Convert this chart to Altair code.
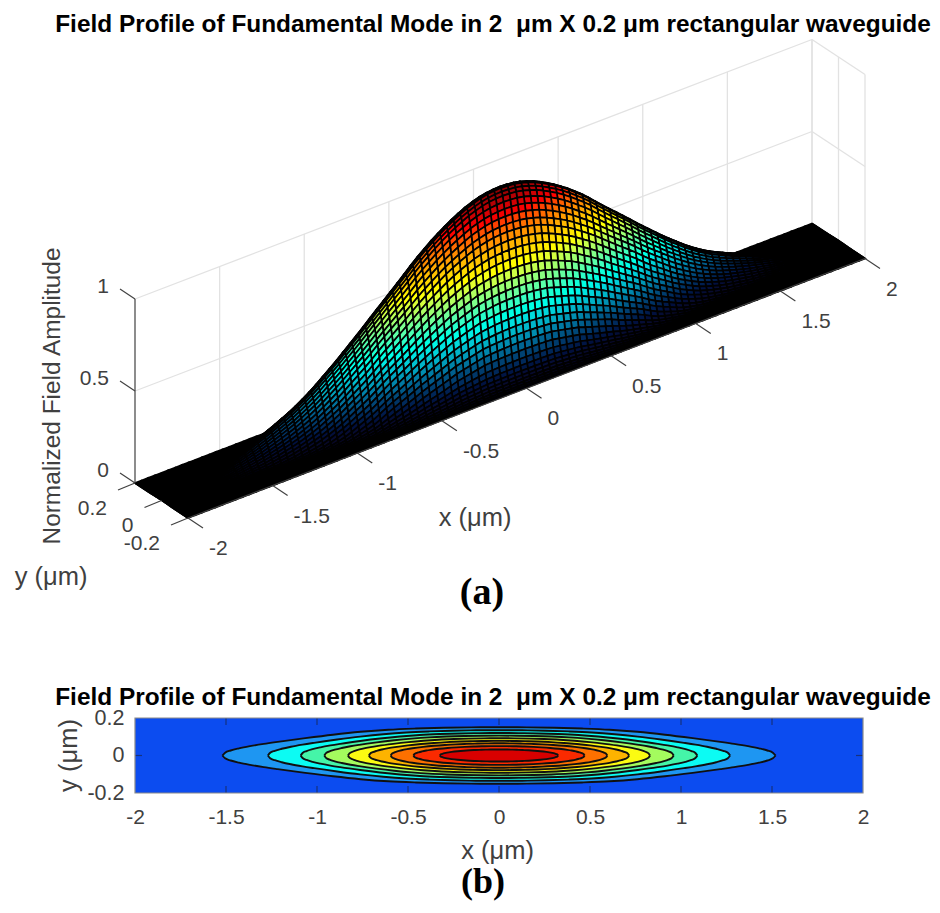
import numpy as np
import altair as alt

TITLE = "Field Profile of Fundamental Mode in 2\u00a0 \u03bcm X 0.2 \u03bcm rectangular waveguide"
UM_X = "x (\u03bcm)"
UM_Y = "y (\u03bcm)"
Z_LABEL = "Normalized Field Amplitude"

# field: amplitude along |x| = 0 ... 2 (0.04 apart), how much the mode narrows in y there,
# and the amplitude along |y| = 0 ... 0.2 (1/150 apart)
x_half = [0.00,0.04,0.08,0.12,0.16,0.20,0.24,0.28,0.32,0.36,0.40,0.44,0.48,0.52,0.56,0.60,0.64,0.68,0.72,0.76,
          0.80,0.84,0.88,0.92,0.96,1.00,1.04,1.08,1.12,1.16,1.20,1.24,1.28,1.32,1.36,1.40,1.44,1.48,1.52,1.56,
          1.60,1.64,1.68,1.72,1.76,1.80,1.84,1.88,1.92,1.96,2.00]
fx_half = [1.000,0.998,0.994,0.986,0.974,0.960,0.942,0.922,0.900,0.876,0.850,0.821,0.792,0.760,0.725,0.691,0.658,0.625,0.592,0.559,
           0.525,0.492,0.460,0.428,0.396,0.366,0.337,0.308,0.281,0.256,0.233,0.212,0.194,0.176,0.159,0.143,0.127,0.112,0.098,0.085,
           0.073,0.062,0.052,0.043,0.035,0.028,0.022,0.016,0.011,0.006,0.002]
wy_half = [1.00,1.00,1.00,1.00,1.00,1.00,0.995,0.99,0.985,0.98,0.97,0.96,0.95,0.94,0.93,0.915,0.90,0.885,0.87,0.85,
           0.825,0.80,0.78,0.76,0.735,0.71,0.69,0.67,0.65,0.635,0.62,0.605,0.59,0.58,0.57,0.56,0.55,0.55,0.55,0.55,
           0.55,0.55,0.55,0.55,0.55,0.55,0.55,0.55,0.55,0.55,0.55]
y_half = [0.0,0.00667,0.01333,0.02,0.02667,0.03333,0.04,0.04667,0.05333,0.06,0.06667,0.07333,0.08,0.08667,0.09333,0.10,
          0.10667,0.11333,0.12,0.12667,0.13333,0.14,0.14667,0.15333,0.16,0.16667,0.17333,0.18,0.18667,0.19333,0.20]
fy_half = [1.000,0.996,0.980,0.960,0.930,0.895,0.858,0.818,0.780,0.735,0.688,0.640,0.590,0.540,0.492,0.445,
           0.396,0.348,0.300,0.256,0.214,0.172,0.132,0.100,0.075,0.056,0.040,0.028,0.018,0.010,0.003]

# contour panel: where each contour ends on y = 0, how far it reaches at x = 0, and its outline
# (outer contours lean to the lens-like outline, inner ones to the rounder one)
levels = [0.1, 0.2, 0.3, 0.4, 0.5, 0.6, 0.7, 0.8, 0.9]
tip_x = [1.52, 1.27, 1.09, 0.96, 0.83, 0.715, 0.595, 0.47, 0.325]
peak_y = [0.151, 0.135, 0.12, 0.106, 0.092, 0.078, 0.065, 0.05, 0.032]
roundness = [0.35, 0.45, 0.55, 0.65, 0.75, 0.85, 0.95, 1.0, 1.0]
outline_u = [0.0, 0.1, 0.2, 0.3, 0.4, 0.5, 0.6, 0.7, 0.8, 0.85, 0.9, 0.94, 0.97, 0.99, 1.0]
outline_lens = [1.0, 0.995, 0.98, 0.95, 0.905, 0.82, 0.70, 0.56, 0.42, 0.35, 0.275, 0.205, 0.14, 0.08, 0.0]
outline_round = [1.0, 0.995, 0.98, 0.954, 0.917, 0.866, 0.80, 0.714, 0.60, 0.527, 0.436, 0.341, 0.243, 0.141, 0.0]
band_colors = ["#1e96f2", "#0cfbf3", "#45f5a8", "#a4fb5e", "#fbfb12", "#fdb300", "#fd7000", "#fb2a00", "#d80000"]
bg_color = "#0c4cf0"

x_ticks = [-2, -1.5, -1, -0.5, 0, 0.5, 1, 1.5, 2]
y_ticks = [0.2, 0, -0.2]
z_ticks = [0, 0.5, 1]
surf_stops = [0, 0.08, 0.16, 0.26, 0.36, 0.61, 0.86, 1]
surf_colors = ["#000010", "#001040", "#004878", "#00a8c0", "#00ffe8", "#ffff00", "#ff0000", "#800000"]

INK = "#404040"
W = 924
H_TOP = 661
H_BOT = 232


def P(x, y, z):
    """oblique view of the data box, in view pixels"""
    px = 135 + (x + 2) / 4 * 677 + (0.2 - y) / 0.4 * 53 - 8
    py = 483 - (x + 2) / 4 * 259.5 + (0.2 - y) / 0.4 * 35 - z * 184 - 8
    return round(float(px), 2), round(float(py), 2)


X_S = alt.Scale(domain=[0, W], nice=False, zero=False)
Y_S = alt.Scale(domain=[H_TOP, 0], nice=False, zero=False)
ex = alt.X("x:Q", scale=X_S, axis=None)
ey = alt.Y("y:Q", scale=Y_S, axis=None)


def seg(a, b, da=(0, 0), db=(0, 0)):
    p, q = P(*a), P(*b)
    return dict(x=p[0] + da[0], y=p[1] + da[1], x2=q[0] + db[0], y2=q[1] + db[1])


def rules(rows, color, width):
    return alt.Chart(alt.Data(values=rows)).mark_rule(color=color, strokeWidth=width).encode(
        x=ex, y=ey, x2="x2:Q", y2="y2:Q")


# ---- walls
grid = [seg((x, 0.2, 0), (x, 0.2, 1)) for x in x_ticks[1:]]
grid += [seg((-2, 0.2, z), (2, 0.2, z)) for z in z_ticks[1:]]
grid += [seg((2, 0.2, z), (2, -0.2, z)) for z in z_ticks[1:]]
grid += [seg((2, y, 0), (2, y, 1)) for y in y_ticks[:2]] + [seg((2, -0.2, 0), (2, -0.2, 1))]

# ---- surface, painted from the far corner to the near one
fya, ya = np.array(fy_half), np.array(y_half)
xs = np.array([-v for v in x_half[:0:-1]] + x_half)
ys = np.array([-v for v in y_half[:0:-1]] + y_half)
fx = np.array(fx_half[:0:-1] + fx_half)
wy = np.array(wy_half[:0:-1] + wy_half)
Z = np.array([[f * np.interp(abs(yv) / w, ya, fya) for f, w in zip(fx, wy)] for yv in ys])

cells = []
for j in range(len(ys) - 2, -1, -1):
    for i in range(len(xs) - 2, -1, -1):
        corners = [(i, j), (i + 1, j), (i + 1, j + 1), (i, j + 1), (i, j)]
        ring = [list(P(xs[a], ys[b], Z[b, a])) for a, b in corners]
        cells.append({"type": "Feature",
                      "geometry": {"type": "Polygon", "coordinates": [ring]},
                      "properties": {"z": round(float(Z[j:j + 2, i:i + 2].mean()), 4)}})

surface = (
    alt.Chart(alt.Data(values=cells))
    .mark_geoshape(stroke="#000000", strokeWidth=1.7)
    .encode(color=alt.Color("properties.z:Q", scale=alt.Scale(domain=surf_stops, range=surf_colors), legend=None))
    .project(type="identity", scale=1, translate=[0, 0])
)

# ---- axes of the box
frame = [seg((-2, 0.2, 0), (-2, 0.2, 1)), seg((-2, -0.2, 0), (2, -0.2, 0))]
ticks = [seg((x, -0.2, 0), (x, -0.2, 0), db=(15, 10)) for x in x_ticks]
ticks += [seg((-2, y, 0), (-2, y, 0), db=(-17, 7)) for y in y_ticks]
ticks += [seg((-2, 0.2, z), (-2, 0.2, z), db=(-15, -10)) for z in z_ticks]


lx = []
for v in x_ticks:
    p = P(v, -0.2, 0)
    lx.append(dict(x=p[0] + 21, y=p[1] + 31, t=str(v)))
ly = []
for v in y_ticks:
    p = P(-2, v, 0)
    ly.append(dict(x=p[0] - 28, y=p[1] + 25.5, t=str(v)))
for v in z_ticks:
    p = P(-2, 0.2, v)
    ly.append(dict(x=p[0] - 26, y=p[1] - 12.5, t=str(v)))


def tick_text(rows, align):
    return alt.Chart(alt.Data(values=rows)).mark_text(
        align=align, baseline="middle", font="Liberation Sans", fontSize=21, color=INK
    ).encode(x=ex, y=ey, text="t:N")


def note(text, px, py, size, color=INK, bold=False, font="Liberation Sans", angle=0, top=0):
    return alt.Chart(alt.Data(values=[{"t": text}])).mark_text(
        align="center", baseline="middle", font=font, fontSize=size, color=color,
        fontWeight="bold" if bold else "normal", angle=angle
    ).encode(x=alt.value(px - 8), y=alt.value(py - 8 - top), text="t:N")


top = alt.layer(
    rules(grid, "#e2e2e2", 1.3),
    surface,
    rules(frame, INK, 1.2),
    rules(ticks, INK, 1.2),
    tick_text(lx, "left"),
    tick_text(ly, "right"),
    note(Z_LABEL, 53, 396, 24.4, angle=270),
    note(UM_X, 475, 518, 25.5),
    note(UM_Y, 51, 577, 25.5),
    note("(a)", 482, 593, 38, color="#000000", bold=True, font="Liberation Serif"),
    note(TITLE, 493, 25, 24.4, color="#000000", bold=True),
).properties(width=W, height=H_TOP)

# ---- contour panel (plot box 718..793 on the page)
PX_X = 182.0
PX_Y = 187.5
BOX_TOP = 718 - 8 - H_TOP
BOX_BOT = 793 - 8 - H_TOP
X_B = alt.Scale(domain=[-2 - 127 / PX_X, 2 + (W - 855) / PX_X], nice=False, zero=False)
Y_B = alt.Scale(domain=[-0.2 - (H_BOT - BOX_BOT) / PX_Y, 0.2 + BOX_TOP / PX_Y], nice=False, zero=False)
x_axis = alt.Axis(values=x_ticks, labelExpr='"" + datum.value', domain=False, ticks=False, grid=False,
                  offset=-(H_BOT - BOX_BOT), labelFont="Liberation Sans", labelFontSize=21, labelColor=INK,
                  labelPadding=13, labelFlush=False, labelOverlap=False, title=UM_X, titleFont="Liberation Sans",
                  titleFontSize=25.5, titleFontWeight="normal", titleColor=INK, titleX=489, titleY=57,
                  titleBaseline="middle")
y_axis = alt.Axis(values=y_ticks, labelExpr='"" + datum.value', domain=False, ticks=False, grid=False,
                  offset=-127, labelFont="Liberation Sans", labelFontSize=21.5, labelColor=INK,
                  labelPadding=11, labelFlush=False, labelOverlap=False, title=UM_Y, titleFont="Liberation Sans",
                  titleFontSize=25.5, titleFontWeight="normal", titleColor=INK, titleX=-67, titleY=BOX_TOP + 37,
                  titleBaseline="middle", titleAngle=270)
bx = alt.X("x:Q", scale=X_B, axis=x_axis)
by = alt.Y("y:Q", scale=Y_B, axis=y_axis)
bx0 = alt.X("x:Q", scale=X_B, axis=None)
by0 = alt.Y("y:Q", scale=Y_B, axis=None)

layers = [
    alt.Chart(alt.Data(values=[dict(x=-2, y=-0.2, x2=2, y2=0.2)])).mark_rect(color=bg_color).encode(
        x=bx, y=by, x2="x2:Q", y2="y2:Q")
]
loops = []
for level, tip, peak, rnd, color in zip(levels, tip_x, peak_y, roundness, band_colors):
    vs = [(1 - rnd) * a + rnd * b for a, b in zip(outline_lens, outline_round)]
    # left half from the tip inwards, then the right half
    upper = [(-tip * u, peak * v) for u, v in zip(outline_u[:0:-1], vs[:0:-1])]
    upper += [(tip * u, peak * v) for u, v in zip(outline_u, vs)]
    rows = [dict(x=round(a, 4), top=round(b, 4), bot=-round(b, 4)) for a, b in upper]
    layers.append(alt.Chart(alt.Data(values=rows)).mark_area(color=color, interpolate="monotone").encode(
        x=bx0, y=alt.Y("top:Q", scale=Y_B, axis=None), y2="bot:Q"))
    loops += [dict(x=r["x"], y=r["top"], curve=f"{level}+") for r in rows]
    loops += [dict(x=r["x"], y=r["bot"], curve=f"{level}-") for r in rows]

contours = alt.Chart(alt.Data(values=loops)).mark_line(
    color="#101010", strokeWidth=1.9, interpolate="monotone"
).encode(x=bx0, y=by0, detail="curve:N")

inner_x = [dict(x=v, y=e, y2=e - float(np.sign(e)) * 7 / PX_Y) for v in x_ticks[1:-1] for e in (-0.2, 0.2)]
inner_y = [dict(y=0, x=e, x2=e - float(np.sign(e)) * 7 / PX_X) for e in (-2, 2)]
tick_x = alt.Chart(alt.Data(values=inner_x)).mark_rule(color="#17327e", strokeWidth=1.2).encode(
    x=bx0, y=by0, y2="y2:Q")
tick_y = alt.Chart(alt.Data(values=inner_y)).mark_rule(color="#17327e", strokeWidth=1.2).encode(
    x=bx0, x2="x2:Q", y=by0)
box = alt.Chart(alt.Data(values=[dict(x=-2, y=-0.2, x2=2, y2=0.2)])).mark_rect(
    fillOpacity=0, stroke="#8a8a8a", strokeWidth=1.2).encode(x=bx0, y=by0, x2="x2:Q", y2="y2:Q")

bottom = alt.layer(
    *layers, contours, tick_x, tick_y, box,
    note(TITLE, 493, 698, 24.4, color="#000000", bold=True, top=H_TOP),
    note("(b)", 483, 882, 36, color="#000000", bold=True, font="Liberation Serif", top=H_TOP),
).resolve_axis(x="independent", y="independent").properties(width=W, height=H_BOT)

chart = alt.vconcat(top, bottom, spacing=0).properties(padding=0).resolve_scale(
    x="independent", y="independent", color="independent"
).configure_view(stroke=None)

chart.save("out.html", embed_options={"renderer": "svg", "actions": False})
